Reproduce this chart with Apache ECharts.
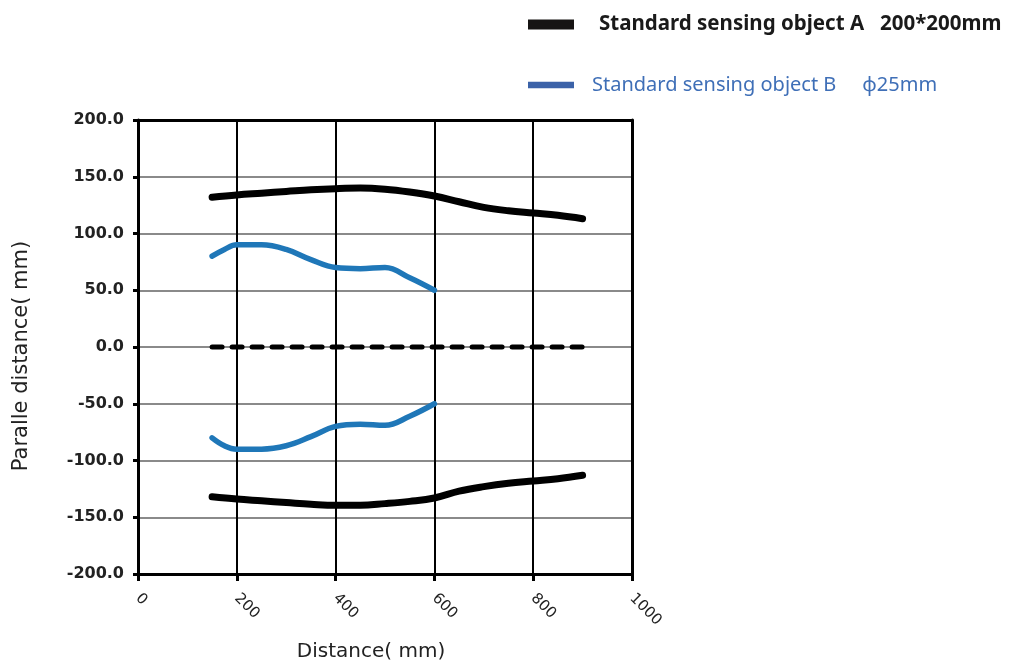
<!DOCTYPE html>
<html>
<head>
<meta charset="utf-8">
<script src="https://cdn.jsdelivr.net/npm/echarts@6/dist/echarts.min.js"></script>
<style>html,body{margin:0;padding:0;background:#fff;overflow:hidden}#c{width:1018px;height:667px}</style>
</head>
<body>
<div id="c"></div>
<script>
const xA = [150, 200, 250, 300, 350, 400, 450, 500, 550, 600, 650, 700, 750, 800, 850, 900];
const aUpper = [132, 134, 135.5, 137, 138.5, 139.5, 140, 139, 136.5, 133, 128, 123, 120, 118, 116, 113];
const aLower = [-132, -134, -135.5, -137, -138.5, -139.5, -139.5, -138, -136, -133, -127, -123, -120, -118, -116, -113];
const xB = [150, 175, 200, 250, 300, 350, 400, 450, 500, 550, 600];
const bUpper = [80, 86, 90, 90, 86, 77, 70, 69, 70, 61, 50];
const bLower = [-80, -87, -90, -90, -87, -79, -70, -68, -69, -61, -50];
const xZero = [150, 900];
const zeroLine = [0, 0];
const nameA = 'Standard sensing object A   200*200mm';
const nameB = 'Standard sensing object B     \u03D525mm';

const pair = (xs, ys) => xs.map((x, i) => [x, ys[i]]);
const blue = '#1f77b8';
const font = 'DejaVu Sans';

const chart = echarts.init(document.getElementById('c'), null, {renderer: 'canvas', width: 1018, height: 667});
chart.setOption({
  animation: false,
  backgroundColor: '#fff',
  grid: {left: 138, top: 120, width: 494, height: 455},
  legend: [
    {
      data: [{name: nameA, itemStyle: {color: '#161413'}}],
      left: 528, top: 14, padding: 0, icon: 'rect', itemWidth: 46, itemHeight: 10,
      formatter: n => '{a|' + n + '}',
      textStyle: {rich: {a: {padding: [0, 0, 0, 20], lineHeight: 24, fontFamily: 'Noto Sans', fontWeight: 'bold', fontSize: 20.5, color: '#1a1a1a'}}}
    },
    {
      data: [{name: nameB, itemStyle: {color: '#3b62a8'}}],
      left: 528, top: 75, padding: 0, icon: 'rect', itemWidth: 46, itemHeight: 6.5,
      formatter: n => '{a|' + n + '}',
      textStyle: {rich: {a: {padding: [0, 0, 0, 13], lineHeight: 24, fontFamily: 'Noto Sans', fontSize: 20, color: '#3f6fb7'}}}
    }
  ],
  xAxis: [{
    type: 'value', min: 0, max: 1000, interval: 200,
    name: 'Distance( mm)', nameLocation: 'middle', nameGap: 68,
    nameTextStyle: {fontFamily: font, fontSize: 20, color: '#222', padding: [0, 28, 0, 0]},
    axisLine: {show: true, onZero: false, lineStyle: {color: '#000', width: 3}},
    axisTick: {show: true, length: 7, lineStyle: {color: '#000', width: 3}},
    axisLabel: {rotate: -45, fontFamily: font, fontSize: 15, color: '#222', margin: 22, formatter: v => String(v)},
    splitLine: {show: true, lineStyle: {color: '#000', width: 2}}
  }, {
    type: 'value', position: 'top', min: 0, max: 1000, interval: 200,
    axisLine: {show: true, onZero: false, lineStyle: {color: '#000', width: 3}},
    axisTick: {show: false}, axisLabel: {show: false}, splitLine: {show: false}
  }],
  yAxis: [{
    type: 'value', min: -200, max: 200, interval: 50,
    name: 'Paralle distance( mm)', nameLocation: 'middle', nameGap: 106,
    nameTextStyle: {fontFamily: font, fontSize: 21, color: '#222', padding: [0, 18, 0, 0]},
    axisLine: {show: true, onZero: false, lineStyle: {color: '#000', width: 3}},
    axisTick: {show: true, length: 5, lineStyle: {color: '#000', width: 3}},
    axisLabel: {fontFamily: font, fontSize: 16, fontWeight: 'bold', color: '#222', margin: 14, formatter: v => v.toFixed(1)},
    splitLine: {show: true, lineStyle: {color: '#8a8a8a', width: 2}}
  }, {
    type: 'value', position: 'right', min: -200, max: 200, interval: 50,
    axisLine: {show: true, onZero: false, lineStyle: {color: '#000', width: 3}},
    axisTick: {show: false}, axisLabel: {show: false}, splitLine: {show: false}
  }],
  series: [
    {name: nameA, type: 'line', data: pair(xA, aUpper), smooth: 0.4, showSymbol: false, lineStyle: {color: '#000', width: 7, cap: 'round'}, itemStyle: {color: '#000'}},
    {name: nameA, type: 'line', data: pair(xA, aLower), smooth: 0.4, showSymbol: false, lineStyle: {color: '#000', width: 7, cap: 'round'}, itemStyle: {color: '#000'}},
    {name: nameB, type: 'line', data: pair(xB, bUpper), smooth: 0.4, showSymbol: false, lineStyle: {color: blue, width: 5.5, cap: 'round'}, itemStyle: {color: blue}},
    {name: nameB, type: 'line', data: pair(xB, bLower), smooth: 0.4, showSymbol: false, lineStyle: {color: blue, width: 5.5, cap: 'round'}, itemStyle: {color: blue}},
    {name: 'center', type: 'line', data: pair(xZero, zeroLine), showSymbol: false, lineStyle: {color: '#000', width: 5, type: [10, 10], cap: 'round'}}
  ]
});
</script>
</body>
</html>
